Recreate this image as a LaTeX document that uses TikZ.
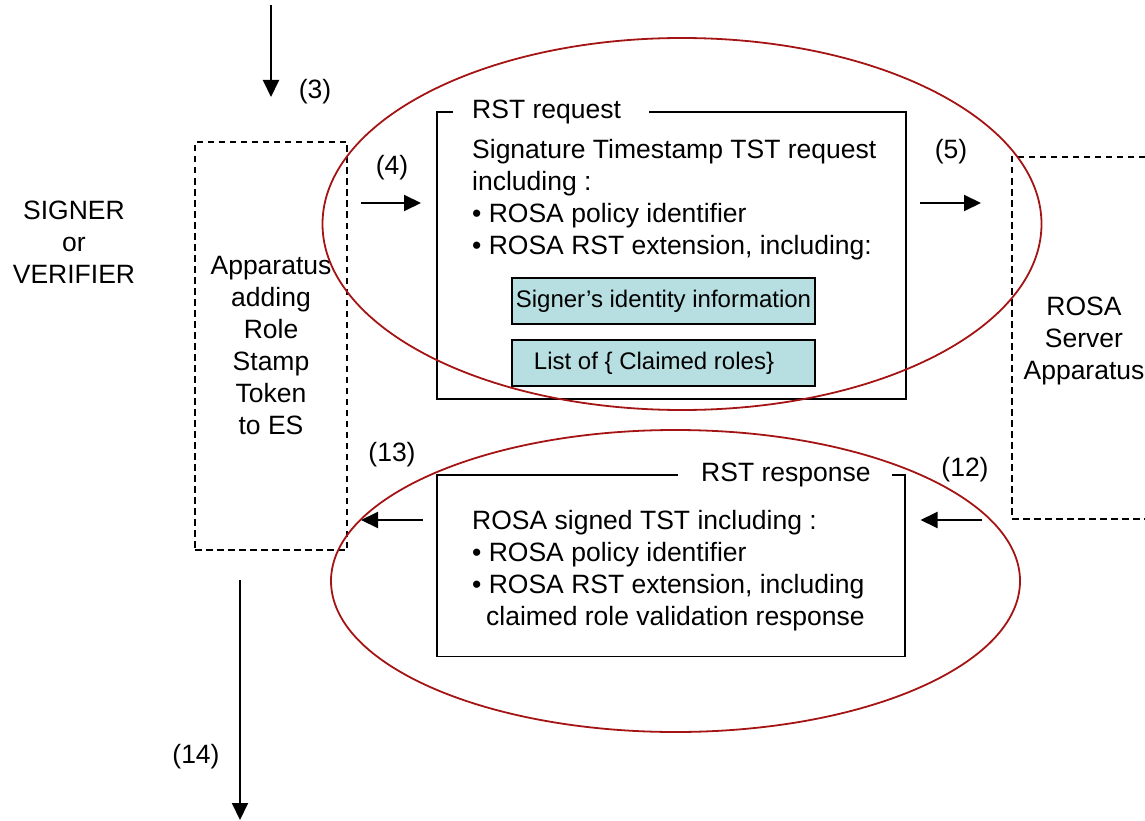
\documentclass[tikz,border=0pt]{standalone}
\usepackage{fontspec}
\setmainfont{Liberation Sans}
\usetikzlibrary{arrows.meta}
\usetikzlibrary{positioning}
\usetikzlibrary{shapes, shapes.geometric}

\definecolor{ovalred}{RGB}{165,20,20}
\definecolor{tealfill}{RGB}{183,222,224}

\begin{document}
\begin{tikzpicture}[x=1pt, y=-1pt, every node/.style={font=\fontsize{26.5}{32}\selectfont, inner sep=0pt}, msgbox/.style={rectangle, draw, line width=1.8pt}, actor/.style={rectangle, draw, dash pattern=on 6.5pt off 4.5pt, line width=1.5pt, align=center}, field/.style={rectangle, draw, line width=1.8pt, fill=tealfill, minimum width=303pt, minimum height=46pt, font=\fontsize{24}{28}\selectfont}, header/.style={fill=white, inner ysep=2pt}, oval/.style={ellipse, draw=ovalred, line width=1.8pt}, flow/.style={-{Triangle[length=17pt,width=16pt]}, line width=2pt}, node distance=14pt]

\useasboundingbox (0,0) rectangle (1145,821);

\node[align=center] (signer) at (74,242) {SIGNER\\or\\VERIFIER};
\node[actor, minimum width=152pt, minimum height=408pt] (adder) at (271,346) {Apparatus\\adding\\Role\\Stamp\\Token\\to ES};
\node[actor, minimum width=144pt, minimum height=362pt, text depth=0pt] (rosa) at (1084,338) {ROSA\\Server\\Apparatus};

\node[msgbox, minimum width=469pt, minimum height=287pt] (request) at (671.5,255.5) {};
\node[header, anchor=west] (reqtitle) at (453,112) {\hspace*{19pt}RST request\hspace*{28pt}};
\node[align=left, anchor=west] (reqtext) at (472,200) {Signature Timestamp TST request\\including :\\• ROSA policy identifier\\• ROSA RST extension, including:};
\node[field] (identity) at (663.5,301) {Signer’s identity information};
\node[field, below=of identity] (roles) {List of \{ Claimed roles\}\hspace*{19pt}};

\node[msgbox, minimum width=468.5pt, minimum height=181.5pt] (response) at (671,565.75) {};
\node[header, anchor=west] (resptitle) at (677.5,475) {\hspace*{23.5pt}RST response\hspace*{21pt}};
\node[align=left, anchor=west] (resptext) at (472,571) {ROSA signed TST including :\\• ROSA policy identifier\\• ROSA RST extension, including\\\hspace*{14pt}claimed role validation response};

\coordinate (in3) at (271,5);
\coordinate (out3) at (271,97);
\coordinate (in4) at (360.5,203);
\coordinate (out4) at (421,203);
\coordinate (in5) at (920,203);
\coordinate (out5) at (981,203);
\coordinate (in12) at (982,520);
\coordinate (out12) at (920.5,520);
\coordinate (in13) at (422.5,520);
\coordinate (out13) at (361,520);
\coordinate (in14) at (240,580);
\coordinate (out14) at (240,820);

\draw[flow] (in3) -- (out3);
\draw[flow] (in4) -- (out4);
\draw[flow] (in5) -- (out5);
\draw[flow] (in12) -- (out12);
\draw[flow] (in13) -- (out13);
\draw[flow] (in14) -- (out14);

\node (step3) at (315,92) {(3)};
\node (step4) at (392,168) {(4)};
\node (step5) at (951,152) {(5)};
\node (step12) at (965,470) {(12)};
\node (step13) at (392,455) {(13)};
\node (step14) at (196,757) {(14)};

\node[oval, minimum width=719pt, minimum height=372pt] (reqoval) at (682,224) {};
\node[oval, minimum width=689pt, minimum height=302pt] (respoval) at (675.5,581) {};

\end{tikzpicture}
\end{document}
